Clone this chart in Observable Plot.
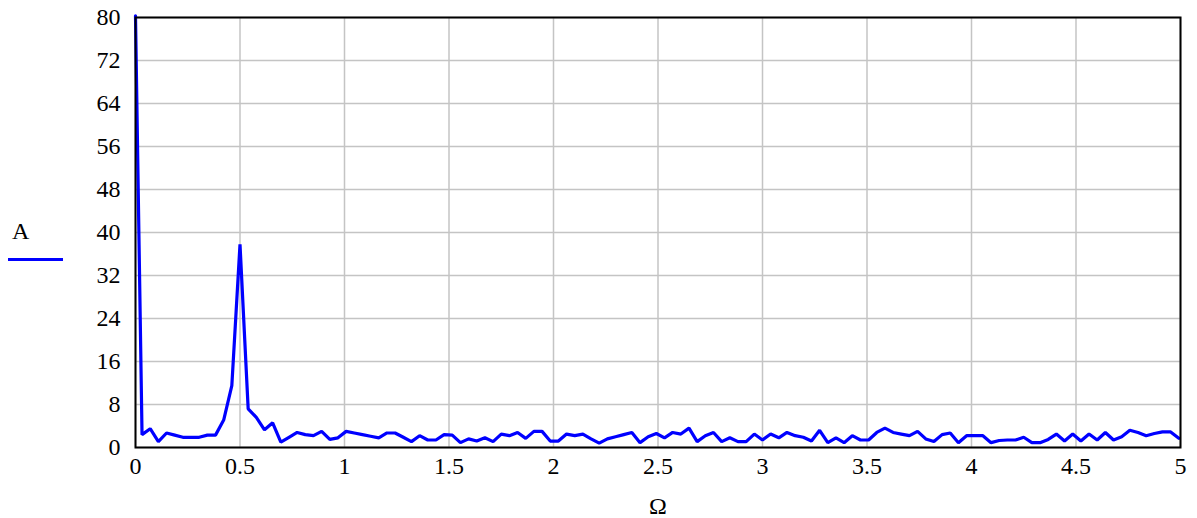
<!DOCTYPE html>
<html>
<head>
<meta charset="utf-8">
<script src="https://cdn.jsdelivr.net/npm/d3@7"></script>
<script src="https://cdn.jsdelivr.net/npm/@observablehq/plot@0.6"></script>
<style>
  body { margin: 0; background: #fff; }
  #wrap { position: relative; width: 1197px; height: 518px; font-family: "Liberation Serif", "Times New Roman", serif; }
  #legend-label { position: absolute; left: 12px; top: 219px; font-size: 24px; line-height: 24px; color: #000; }
  #legend-swatch { position: absolute; left: 8px; top: 257.5px; width: 55px; height: 3px; background: #0000ff; }
</style>
</head>
<body>
<div id="wrap">
  <div id="chart"></div>
  <div id="legend-label">A</div>
  <div id="legend-swatch"></div>
</div>
<script>
// Frequency Ω of each spectrum sample
const omega = [
  0, 0.0313, 0.0703, 0.1094, 0.1485, 0.1875, 0.2266, 0.2656, 0.3047, 0.3438,
  0.3828, 0.4219, 0.4609, 0.5000, 0.5391, 0.5781, 0.6172, 0.6562, 0.6953, 0.7343,
  0.7734, 0.8125, 0.8515, 0.8906, 0.9297, 0.9687, 1.0078, 1.0468, 1.0859, 1.1250,
  1.1640, 1.2031, 1.2422, 1.2812, 1.3203, 1.3593, 1.3984, 1.4375, 1.4765, 1.5156,
  1.5546, 1.5937, 1.6328, 1.6718, 1.7109, 1.7500, 1.7890, 1.8281, 1.8671, 1.9062,
  1.9453, 1.9843, 2.0234, 2.0624, 2.1015, 2.1406, 2.1796, 2.2187, 2.2577, 2.2968,
  2.3359, 2.3749, 2.4140, 2.4530, 2.4921, 2.5312, 2.5702, 2.6093, 2.6484, 2.6874,
  2.7265, 2.7655, 2.8046, 2.8437, 2.8827, 2.9218, 2.9608, 2.9999, 3.0390, 3.0780,
  3.1171, 3.1562, 3.1952, 3.2343, 3.2733, 3.3124, 3.3515, 3.3905, 3.4296, 3.4686,
  3.5077, 3.5468, 3.5858, 3.6249, 3.6640, 3.7030, 3.7421, 3.7811, 3.8202, 3.8593,
  3.8983, 3.9374, 3.9764, 4.0155, 4.0546, 4.0936, 4.1327, 4.1718, 4.2108, 4.2499,
  4.2889, 4.3280, 4.3671, 4.4061, 4.4452, 4.4842, 4.5233, 4.5624, 4.6014, 4.6405,
  4.6796, 4.7186, 4.7577, 4.7967, 4.8358, 4.8749, 4.9139, 4.9530, 4.9920
];

// Amplitude A
const amplitude = [
  80.3, 2.4, 3.5, 1.1, 2.7, 2.3, 1.9, 1.9, 1.9, 2.3,
  2.3, 5.1, 11.5, 37.8, 7.2, 5.6, 3.3, 4.6, 1.0, 1.9,
  2.8, 2.4, 2.2, 3.0, 1.5, 1.8, 3.0, 2.7, 2.4, 2.1,
  1.8, 2.7, 2.7, 1.9, 1.1, 2.2, 1.4, 1.4, 2.4, 2.3,
  0.9, 1.6, 1.2, 1.8, 1.1, 2.5, 2.2, 2.8, 1.7, 3.0,
  3.0, 1.2, 1.2, 2.5, 2.2, 2.5, 1.6, 0.8, 1.6, 2.0,
  2.4, 2.8, 0.9, 2.0, 2.6, 1.8, 2.8, 2.5, 3.6, 1.1,
  2.2, 2.8, 1.1, 1.8, 1.1, 1.1, 2.5, 1.4, 2.5, 1.8,
  2.8, 2.2, 1.9, 1.2, 3.2, 0.9, 1.8, 0.9, 2.2, 1.4,
  1.4, 2.8, 3.6, 2.8, 2.5, 2.2, 3.0, 1.6, 1.1, 2.4,
  2.7, 0.9, 2.2, 2.2, 2.2, 0.9, 1.3, 1.4, 1.4, 1.9,
  0.9, 0.9, 1.5, 2.5, 1.2, 2.5, 1.2, 2.5, 1.4, 2.8,
  1.4, 2.0, 3.2, 2.8, 2.2, 2.6, 2.9, 2.9, 1.7
];

const xTicks = [0, 0.5, 1, 1.5, 2, 2.5, 3, 3.5, 4, 4.5, 5];
const xTickLabels = ["0", "0.5", "1", "1.5", "2", "2.5", "3", "3.5", "4", "4.5", "5"];
const yTicks = [0, 8, 16, 24, 32, 40, 48, 56, 64, 72, 80];
const xLabel = "Ω";

const data = omega.map((w, i) => ({omega: w, amp: amplitude[i]}));

const chart = Plot.plot({
  width: 1197,
  height: 518,
  marginLeft: 135,
  marginRight: 17,
  marginTop: 17,
  marginBottom: 71,
  style: {fontFamily: "'Liberation Serif', 'Times New Roman', serif", fontSize: "24px", color: "#000", background: "#fff"},
  x: {domain: [0, 5], ticks: xTicks, tickFormat: d => xTickLabels[xTicks.indexOf(d)], tickSize: 0, tickPadding: 9, label: null},
  y: {domain: [0, 80], ticks: yTicks, tickSize: 0, tickPadding: 15, label: null},
  marks: [
    Plot.ruleX(xTicks, {stroke: "#c4c4c4", strokeWidth: 1.5}),
    Plot.ruleY(yTicks, {stroke: "#c4c4c4", strokeWidth: 1.5}),
    Plot.line(data, {x: "omega", y: "amp", stroke: "#0000ff", strokeWidth: 3.2, strokeLinejoin: "miter"}),
    Plot.frame({stroke: "#000", strokeWidth: 2}),
    Plot.text([xLabel], {frameAnchor: "bottom", dy: 66, fontSize: 24, fill: "#000"})
  ]
});
document.getElementById("chart").appendChild(chart);
</script>
</body>
</html>
